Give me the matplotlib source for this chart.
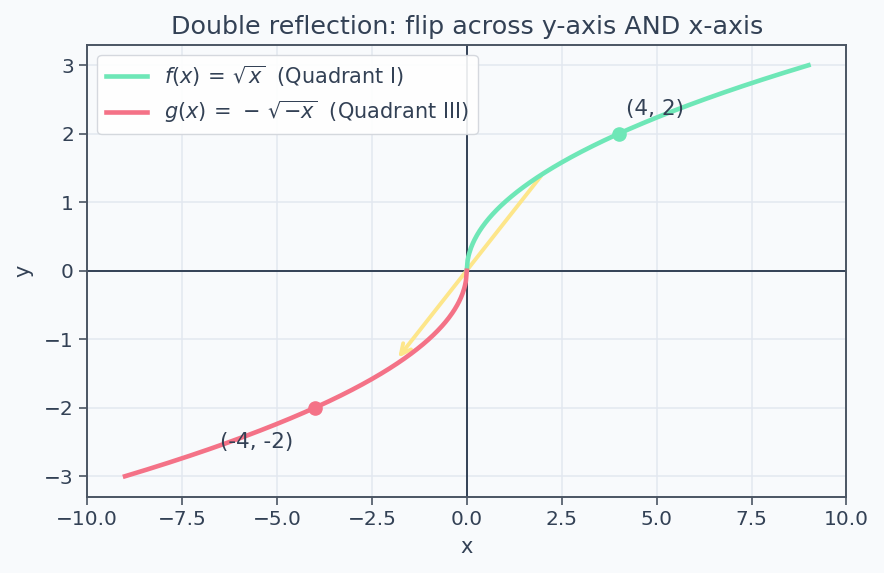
import numpy as np
import matplotlib
matplotlib.use("Agg")
import matplotlib.pyplot as plt

# data
x_pos = np.linspace(0, 9, 400)
f_vals = np.sqrt(x_pos)
x_neg = np.linspace(-9, 0, 400)
g_vals = -np.sqrt(-x_neg)
points = [(4, 2), (-4, -2)]
point_labels = ["(4, 2)", "(-4, -2)"]
label_pos = [(4.2, 2.27), (-6.5, -2.59)]
arrow_start = (2, np.sqrt(2))
arrow_end = (-1.85, -1.3)
xticks = [-10.0, -7.5, -5.0, -2.5, 0.0, 2.5, 5.0, 7.5, 10.0]
yticks = [-3, -2, -1, 0, 1, 2, 3]

TXT = "#334155"
GREEN = "#6ee7b7"
RED = "#f47287"
YEL = "#fde68a"

fig = plt.figure(figsize=(8.84, 5.73), dpi=100, facecolor="#f8fafc")
ax = fig.add_axes([0.0985, 0.133, 0.859, 0.789])
ax.set_facecolor("#f8fafc")

ax.plot(x_pos, f_vals, color=GREEN, lw=3.3, label=r"$f(x)\,=\,\sqrt{x}$  (Quadrant I)", zorder=3)
ax.plot(x_neg, g_vals, color=RED, lw=3.3, label=r"$g(x)\,=\,-\,\sqrt{-x}$  (Quadrant III)", zorder=3)
ax.scatter([points[0][0]], [points[0][1]], color=GREEN, s=90, zorder=4)
ax.scatter([points[1][0]], [points[1][1]], color=RED, s=90, zorder=4)
for lab, (tx, ty) in zip(point_labels, label_pos):
    ax.text(tx, ty, lab, color=TXT, fontsize=15.5)

ax.annotate("", xy=arrow_end, xytext=arrow_start,
            arrowprops=dict(arrowstyle="->", color=YEL, lw=2.8, mutation_scale=18), zorder=2)

ax.axhline(0, color=TXT, lw=1.4, zorder=1)
ax.axvline(0, color=TXT, lw=1.4, zorder=1)

ax.set_xlim(-10, 10)
ax.set_ylim(-3.3, 3.3)
ax.set_xticks(xticks)
ax.set_yticks(yticks)
ax.grid(True, color="#e2e8f0", lw=1.1, zorder=0)
ax.set_axisbelow(True)
for s in ax.spines.values():
    s.set_color("#4b5563")
    s.set_linewidth(1.4)
ax.tick_params(colors=TXT, labelsize=14.5, length=6, width=1.2, color="#4b5563")
ax.set_xlabel("x", color=TXT, fontsize=15, labelpad=6)
ax.set_ylabel("y", color=TXT, fontsize=15, labelpad=8)
ax.set_title("Double reflection: flip across y-axis AND x-axis", color=TXT, fontsize=18.3, pad=8)

leg = ax.legend(loc="upper left", fontsize=15, frameon=True, facecolor="white",
                edgecolor="#d1d5db", labelcolor=TXT, framealpha=0.9)

fig.savefig("out.png", dpi=100, facecolor=fig.get_facecolor())
